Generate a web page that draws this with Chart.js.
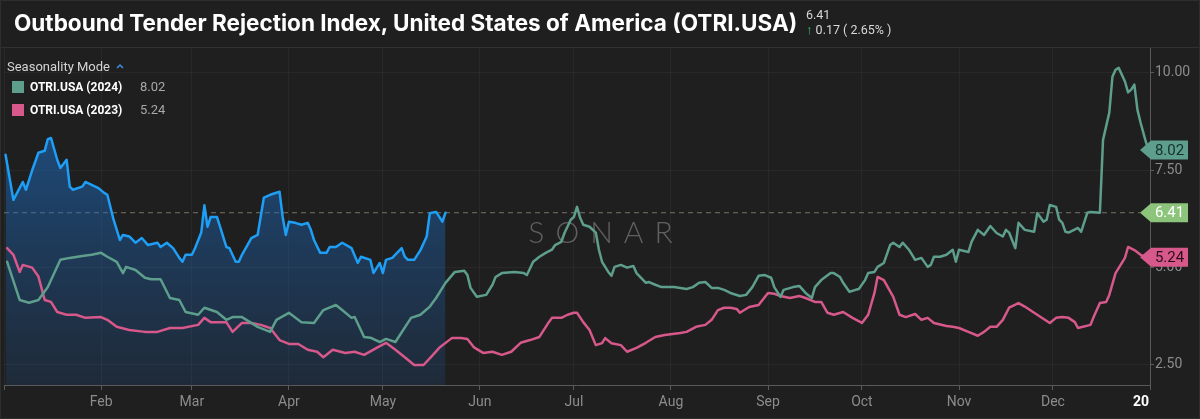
<!DOCTYPE html>
<html>
<head>
<meta charset="utf-8">
<script src="https://cdn.jsdelivr.net/npm/chart.js@4.4.1/dist/chart.umd.min.js"></script>
<style>
  html, body { margin: 0; padding: 0; background: #1f1f1f; overflow: hidden; }
  #wrap { position: relative; width: 1200px; height: 419px; font-family: Roboto, "Noto Sans", sans-serif; }
  #chart { position: absolute; left: 0; top: 0; }
  #frame { position: absolute; left: 0; top: 0; width: 1198px; height: 417px; border: 1px solid #2e2e2e; pointer-events: none; }
  #sep { position: absolute; left: 0; top: 47px; width: 1200px; height: 1px; background: #313131; }
  #title { position: absolute; left: 14px; top: 10px; font-family: Inter, Roboto, sans-serif; font-weight: 700; font-size: 21px; line-height: 26px; color: #fff; white-space: nowrap; }
  #quote { position: absolute; left: 806px; top: 7px; font-size: 12.5px; color: #d8d8d8; line-height: 15px; white-space: nowrap; }
  #quote .up { color: #33c46b; font-weight: 900; font-size: 13px; }
  #legend { position: absolute; left: 7px; top: 57px; font-size: 13px; color: #d4d4d4; }
  #legend .row { display: flex; align-items: center; height: 23px; margin-left: 5px; }
  #legend .sw { width: 12px; height: 12px; margin-right: 6px; }
  #legend .name { font-weight: 700; font-size: 12px; color: #fff; width: 110px; }
  #legend .val { font-size: 13px; color: #a8a8a8; }
  #legend .head { height: 18px; display: flex; align-items: center; }
  #legend svg { margin-left: 6px; }
</style>
</head>
<body>
<div id="wrap">
  <canvas id="chart" width="1200" height="419"></canvas>
  <div id="sep"></div>
  <div id="title">Outbound Tender Rejection Index, United States of America (OTRI.USA)</div>
  <div id="quote">6.41<br><span class="up">&#8593;</span> 0.17 ( 2.65% )</div>
  <div id="legend">
    <div class="head">Seasonality Mode
      <svg width="8" height="6" viewBox="0 0 8 6"><polyline points="1,5 4,2 7,5" fill="none" stroke="#3b8fe0" stroke-width="1.5"/></svg>
    </div>
    <div class="row"><span class="sw" style="background:#5e9e8c"></span><span class="name">OTRI.USA (2024)</span><span class="val">8.02</span></div>
    <div class="row"><span class="sw" style="background:#d7588a"></span><span class="name">OTRI.USA (2023)</span><span class="val">5.24</span></div>
  </div>
  <div id="frame"></div>
</div>
<script>
// day of year (Jan 1 = 0) at each month start, 2024 calendar
const monthDays = [0, 31, 60, 91, 121, 152, 182, 213, 244, 274, 305, 335, 366];
const monthLabels = ['', 'Feb', 'Mar', 'Apr', 'May', 'Jun', 'Jul', 'Aug', 'Sep', 'Oct', 'Nov', 'Dec', ''];
const yearLabel = '20';
const yTicks = [2.5, 5, 7.5, 10];

// current year (blue, filled)
const daysCurrent = [0.5, 3, 6, 7, 9, 11, 13, 14, 15, 17,
  18, 20, 21, 22, 25, 26, 30, 32, 33, 35,
  37, 38, 40, 42, 44, 46, 49, 50, 52, 54,
  56, 57, 58, 60, 61, 63, 64, 65, 66, 68,
  69, 71, 72, 74, 75, 76, 79, 81, 83, 85,
  88, 89, 90, 91, 93, 95, 97, 98, 99, 101,
  103, 104, 106, 108, 111, 113, 114, 117, 118, 120,
  121, 122, 124, 127, 128, 129, 131, 133, 135, 136,
  138, 140, 141];
const otriCurrent = [7.9, 6.74, 7.2, 7.0, 7.5, 7.95, 8.0, 8.3, 8.33, 7.77,
  7.56, 7.77, 7.08, 7.0, 7.08, 7.2, 7.05, 6.92, 6.87, 6.23,
  5.71, 5.84, 5.8, 5.64, 5.76, 5.58, 5.64, 5.53, 5.64, 5.5,
  5.25, 5.15, 5.33, 5.33, 5.5, 5.9, 6.6, 6.05, 6.3, 6.3,
  6.05, 5.53, 5.5, 5.15, 5.15, 5.33, 5.76, 5.84, 6.8, 6.87,
  6.95, 6.3, 5.84, 6.18, 6.15, 6.1, 6.15, 5.97, 5.71, 5.38,
  5.38, 5.53, 5.53, 5.64, 5.5, 5.12, 5.28, 5.2, 4.86, 5.12,
  4.86, 5.2, 5.25, 5.5, 5.28, 5.2, 5.2, 5.45, 5.8, 6.4,
  6.43, 6.18, 6.41];

// 2024 (green)
const days2024 = [1, 5, 8, 11, 14, 18, 21, 25, 28, 31,
  33, 36, 38, 39, 42, 45, 47, 50, 53, 56,
  58, 62, 64, 68, 71, 73, 76, 81, 85, 87,
  91, 95, 99, 102, 106, 108, 111, 112, 115, 117,
  120, 122, 125, 130, 133, 136, 138, 141, 144, 147,
  148, 149, 151, 154, 156, 157, 159, 163, 166, 167,
  169, 171, 173, 175, 176, 178, 179, 181, 182, 183,
  184, 185, 187, 189, 190, 191, 193, 194, 195, 197,
  199, 201, 202, 205, 206, 208, 210, 214, 218, 220,
  222, 224, 226, 228, 230, 232, 235, 237, 239, 241,
  243, 245, 246, 248, 249, 252, 254, 256, 258, 259,
  261, 264, 265, 267, 268, 270, 272, 273, 275, 276,
  278, 279, 281, 283, 284, 286, 287, 289, 291, 293,
  295, 296, 297, 299, 301, 303, 304, 305, 308, 309,
  311, 313, 315, 317, 319, 320, 321, 323, 324, 326,
  329, 330, 332, 333, 334, 336, 337, 338, 339, 340,
  343, 344, 346, 347, 350, 351, 353, 354, 355, 356,
  358, 359, 360, 361, 362, 363, 364.5, 365.5];
const otri2024 = [5.15, 4.17, 4.1, 4.17, 4.5, 5.2, 5.25, 5.3, 5.33, 5.38,
  5.28, 5.15, 4.86, 5.02, 4.94, 4.74, 4.7, 4.7, 4.22, 4.17,
  3.86, 3.79, 3.97, 3.86, 3.66, 3.73, 3.73, 3.48, 3.35, 3.66,
  3.84, 3.6, 3.58, 3.91, 4.04, 3.91, 3.71, 3.73, 3.22, 3.2,
  3.09, 3.17, 3.09, 3.71, 3.79, 4.0, 4.22, 4.61, 4.89, 4.92,
  4.81, 4.48, 4.25, 4.3, 4.56, 4.76, 4.86, 4.89, 4.86, 4.81,
  5.15, 5.28, 5.38, 5.46, 5.58, 5.66, 5.89, 6.23, 6.3, 6.56,
  6.28, 6.1, 6.05, 5.9, 5.46, 5.15, 4.89, 4.79, 5.02, 5.07,
  5.0, 5.04, 4.86, 4.61, 4.63, 4.56, 4.5, 4.5, 4.45, 4.5,
  4.61, 4.63, 4.48, 4.48, 4.43, 4.35, 4.27, 4.3, 4.5, 4.79,
  4.81, 4.74, 4.5, 4.25, 4.43, 4.5, 4.53, 4.35, 4.22, 4.5,
  4.68, 4.86, 4.86, 4.76, 4.61, 4.38, 4.43, 4.45, 4.68, 4.86,
  4.89, 5.02, 5.12, 5.58, 5.64, 5.53, 5.64, 5.46, 5.2, 5.25,
  5.02, 5.07, 5.28, 5.28, 5.33, 5.46, 5.15, 5.46, 5.4, 5.66,
  5.97, 5.84, 6.07, 5.89, 5.8, 5.97, 5.9, 5.5, 6.15, 5.97,
  5.92, 6.4, 6.18, 6.23, 6.61, 6.56, 6.23, 6.15, 5.92, 5.9,
  6.02, 5.92, 6.41, 6.43, 6.41, 8.28, 8.98, 9.9, 10.08, 10.13,
  9.78, 9.5, 9.57, 9.7, 9.05, 8.72, 8.28, 8.02];

// 2023 (pink)
const days2023 = [1, 3, 5, 6, 9, 11, 13, 15, 17, 20,
  23, 26, 31, 33, 36, 40, 45, 49, 53, 57,
  62, 64, 66, 71, 73, 76, 79, 82, 85, 88,
  91, 94, 97, 100, 102, 105, 109, 112, 115, 119,
  122, 125, 128, 131, 134, 137, 139, 143, 146, 148,
  150, 153, 156, 159, 162, 165, 168, 171, 174, 175,
  178, 180, 182, 183, 185, 187, 189, 191, 192, 194,
  197, 199, 202, 205, 208, 211, 216, 218, 221, 224,
  226, 228, 230, 232, 234, 235, 238, 241, 244, 246,
  248, 251, 254, 256, 259, 261, 263, 265, 268, 271,
  274, 276, 278, 279, 281, 284, 286, 288, 291, 293,
  295, 297, 301, 303, 305, 308, 311, 313, 315, 317,
  319, 321, 324, 326, 329, 334, 336, 338, 340, 342,
  343, 347, 348, 350, 352, 353, 355, 358, 359, 361,
  363, 365.5];
const otri2023 = [5.5, 5.33, 4.89, 5.07, 5.0, 4.77, 4.17, 4.12, 3.86, 3.79,
  3.79, 3.71, 3.73, 3.66, 3.48, 3.4, 3.35, 3.35, 3.45, 3.45,
  3.53, 3.71, 3.6, 3.6, 3.35, 3.58, 3.58, 3.53, 3.45, 3.14,
  3.04, 3.04, 2.89, 2.84, 2.7, 2.89, 2.81, 2.84, 2.76, 2.94,
  3.07, 2.89, 2.7, 2.5, 2.5, 2.76, 2.94, 3.19, 3.19, 3.17,
  2.96, 2.81, 2.84, 2.76, 2.84, 3.07, 3.14, 3.22, 3.6, 3.71,
  3.71, 3.79, 3.84, 3.84, 3.6, 3.4, 3.01, 3.06, 3.19, 3.06,
  3.01, 2.84, 2.94, 3.07, 3.22, 3.27, 3.32, 3.35, 3.48, 3.53,
  3.66, 3.91, 3.97, 3.97, 3.94, 3.84, 3.99, 4.04, 4.35, 4.33,
  4.27, 4.22, 4.27, 4.22, 4.12, 4.12, 3.84, 3.79, 3.86, 3.71,
  3.58, 3.79, 4.35, 4.76, 4.68, 4.25, 3.79, 3.73, 3.81, 3.66,
  3.71, 3.58, 3.5, 3.48, 3.45, 3.35, 3.25, 3.35, 3.48, 3.48,
  3.66, 3.97, 4.09, 4.0, 3.84, 3.58, 3.71, 3.73, 3.71, 3.6,
  3.45, 3.53, 3.73, 4.09, 4.12, 4.3, 4.86, 5.25, 5.53, 5.45,
  5.33, 5.24];

const GREEN = '#5e9e8c';
const PINK = '#d7588a';
const BLUE = '#1e9ef5';
const CURRENT_BADGE = '#8bc47a';

// stretch the title so it ends where the reference one does
const titleEl = document.getElementById('title');
titleEl.style.fontSize = (21 * 783 / titleEl.offsetWidth).toFixed(2) + 'px';

const toPoints = (days, vals) => days.map((d, i) => ({ x: d, y: vals[i] }));
const last = arr => arr[arr.length - 1];

function drawBadge(ctx, x, y, text, bg, fg) {
  const h = 19, tip = 11, w = 37;
  ctx.beginPath();
  ctx.moveTo(x, y);
  ctx.lineTo(x + tip, y - h / 2);
  ctx.lineTo(x + tip + w, y - h / 2);
  ctx.lineTo(x + tip + w, y + h / 2);
  ctx.lineTo(x + tip, y + h / 2);
  ctx.closePath();
  ctx.fillStyle = bg;
  ctx.fill();
  ctx.fillStyle = fg;
  ctx.font = '15px Roboto';
  ctx.textAlign = 'center';
  ctx.textBaseline = 'middle';
  ctx.fillText(text, x + tip + w / 2, y + 1);
}

const overlay = {
  id: 'overlay',
  beforeDatasetsDraw(chart) {
    const { ctx, chartArea, scales } = chart;
    ctx.save();
    // watermark
    ctx.font = '300 30px Lato';
    ctx.letterSpacing = '11px';
    ctx.fillStyle = 'rgba(150,150,150,0.55)';
    ctx.textAlign = 'center';
    ctx.textBaseline = 'middle';
    ctx.fillText('SONAR', 606, 233);
    ctx.letterSpacing = '0px';
    // current value reference line
    const yCur = scales.y.getPixelForValue(last(otriCurrent));
    ctx.strokeStyle = 'rgba(190,185,160,0.55)';
    ctx.lineWidth = 1;
    ctx.setLineDash([5, 4]);
    ctx.beginPath();
    ctx.moveTo(chartArea.left, yCur);
    ctx.lineTo(chartArea.right - 10, yCur);
    ctx.stroke();
    ctx.restore();
  },
  afterDraw(chart) {
    const { ctx, chartArea, scales } = chart;
    ctx.save();
    const bx = chartArea.right - 10;
    drawBadge(ctx, bx, scales.y.getPixelForValue(last(otri2024)), last(otri2024).toFixed(2), GREEN, '#16302a');
    drawBadge(ctx, bx, scales.y.getPixelForValue(last(otriCurrent)), last(otriCurrent).toFixed(2), CURRENT_BADGE, '#ffffff');
    drawBadge(ctx, bx, scales.y.getPixelForValue(last(otri2023)) - 1, last(otri2023).toFixed(2), PINK, '#2a0f1a');
    // year label at the end of the x axis
    ctx.font = 'bold 14px Roboto';
    ctx.fillStyle = '#ffffff';
    ctx.textAlign = 'center';
    ctx.textBaseline = 'middle';
    ctx.fillText(yearLabel, scales.x.getPixelForValue(last(monthDays)) - 9, 402);
    ctx.restore();
  }
};

new Chart(document.getElementById('chart'), {
  type: 'line',
  data: {
    datasets: [
      {
        label: 'OTRI.USA (2024)',
        data: toPoints(days2024, otri2024),
        borderColor: GREEN,
        borderWidth: 2.5,
        pointRadius: 0,
        fill: false,
        order: 1
      },
      {
        label: 'OTRI.USA (2023)',
        data: toPoints(days2023, otri2023),
        borderColor: PINK,
        borderWidth: 2.5,
        pointRadius: 0,
        fill: false,
        order: 2
      },
      {
        label: 'OTRI.USA',
        data: toPoints(daysCurrent, otriCurrent),
        borderColor: BLUE,
        borderWidth: 2.5,
        pointRadius: 0,
        fill: 'start',
        order: 3,
        backgroundColor: (context) => {
          const area = context.chart.chartArea;
          if (!area) return 'rgba(30,110,195,0.4)';
          const g = context.chart.ctx.createLinearGradient(0, area.top + 60, 0, area.bottom);
          g.addColorStop(0, 'rgba(30,110,195,0.6)');
          g.addColorStop(1, 'rgba(31,90,160,0.2)');
          return g;
        }
      }
    ]
  },
  options: {
    responsive: false,
    animation: false,
    devicePixelRatio: 1,
    layout: { padding: { left: 0, right: 0, top: 48, bottom: 0 } },
    plugins: { legend: { display: false }, tooltip: { enabled: false } },
    elements: { line: { tension: 0, borderJoinStyle: 'round', borderCapStyle: 'round' } },
    scales: {
      x: {
        type: 'linear',
        min: 0,
        max: 366,
        afterBuildTicks: (scale) => { scale.ticks = monthDays.map(v => ({ value: v })); },
        afterFit: (scale) => { scale.height = 34; },
        grid: { color: 'rgba(255,255,255,0.045)', tickLength: 5, tickColor: '#5a5a5a' },
        border: { color: '#5a5a5a' },
        ticks: {
          autoSkip: false,
          maxRotation: 0,
          padding: 4,
          color: '#8c8c8c',
          font: { family: 'Roboto', size: 14 },
          callback: (v) => { const i = monthDays.indexOf(v); return i >= 0 ? monthLabels[i] : ''; }
        }
      },
      y: {
        position: 'right',
        min: 1.986,
        max: 10.64,
        afterBuildTicks: (scale) => { scale.ticks = yTicks.map(v => ({ value: v })); },
        afterFit: (scale) => { scale.width = 50; },
        grid: { color: 'rgba(255,255,255,0.045)', tickLength: 4, tickColor: '#5a5a5a' },
        border: { color: '#5a5a5a' },
        ticks: {
          padding: 1,
          color: '#8c8c8c',
          font: { family: 'Roboto', size: 14 },
          callback: (v) => v.toFixed(2)
        }
      }
    }
  },
  plugins: [overlay]
});
</script>
</body>
</html>
